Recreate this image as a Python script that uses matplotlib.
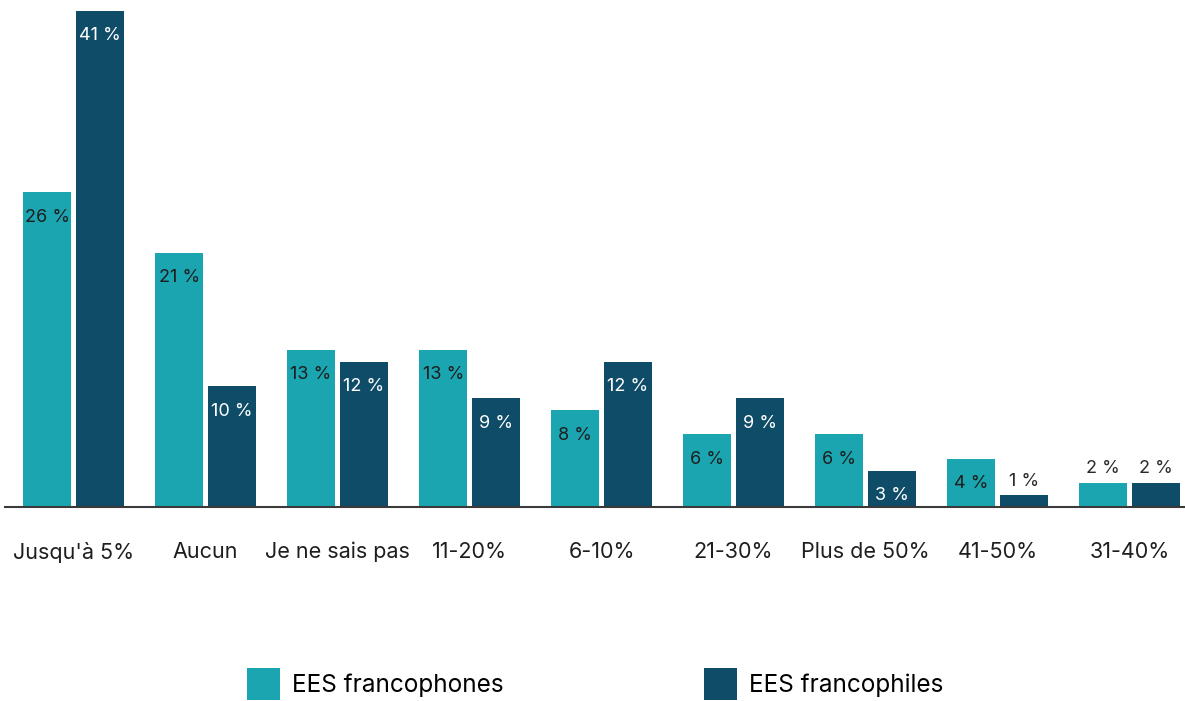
import matplotlib
matplotlib.use("Agg")
import matplotlib.pyplot as plt
import numpy as np

plt.rcParams['font.family'] = ['Inter', 'DejaVu Sans']

categories = ["Jusqu'à 5%", "Aucun", "Je ne sais pas", "11-20%", "6-10%",
              "21-30%", "Plus de 50%", "41-50%", "31-40%"]
francophones = [26, 21, 13, 13, 8, 6, 6, 4, 2]
francophiles = [41, 10, 12, 9, 12, 9, 3, 1, 2]

teal = '#1ba5b0'
navy = '#0f4c68'

W, H = 1185, 701
fig = plt.figure(figsize=(W / 100, H / 100), dpi=100)
# axes placed in pixels: baseline at y=507 from top, x from 5 to 1185
ax = fig.add_axes([5 / W, (H - 507) / H, 1180 / W, 507 / H])

x = np.arange(len(categories))
bw = 0.364
off = 0.2
b1 = ax.bar(x - off, francophones, bw, color=teal, label='EES francophones')
b2 = ax.bar(x + off, francophiles, bw, color=navy, label='EES francophiles')

ax.set_xlim(-0.519, 8.42)
ax.set_ylim(0, 507 / 12.1)


def put_labels(bars, vals, inside_color):
  for rect, v in zip(bars, vals):
    cx = rect.get_x() + rect.get_width() / 2
    if v <= 2:
      ax.annotate(f"{v} %", (cx, v), xytext=(0, 10), textcoords='offset points',
                  ha='center', va='center', fontsize=13, color='#2a2a2a')
    else:
      ax.annotate(f"{v} %", (cx, v), xytext=(0, -18), textcoords='offset points',
                  ha='center', va='center', fontsize=13, color=inside_color)


put_labels(b1, francophones, '#1e1e1e')
put_labels(b2, francophiles, 'white')

for s in ['top', 'right', 'left']:
  ax.spines[s].set_visible(False)
ax.spines['bottom'].set_color('#3a3a3a')
ax.spines['bottom'].set_linewidth(1.5)
ax.set_yticks([])
ax.set_xticks(x)
ax.set_xticklabels(categories, fontsize=15.5, color='#1e1e1e')
ax.tick_params(axis='x', length=0, pad=25)

fig.legend(loc='upper left', bbox_to_anchor=(247 / W, 1 - 668 / H), ncol=2,
           frameon=False, fontsize=17.5, handlelength=1.35, handleheight=1.65,
           handletextpad=0.5, columnspacing=8.25, borderpad=0, borderaxespad=0)

fig.savefig('out.png', dpi=100)
